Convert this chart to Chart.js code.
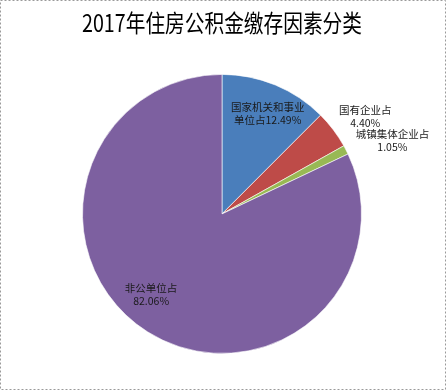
<!DOCTYPE html>
<html>
<head>
<meta charset="utf-8">
<script src="https://cdn.jsdelivr.net/npm/chart.js@4"></script>
<style>
  html, body { margin: 0; padding: 0; background: #fff; }
  #wrap { width: 446px; height: 390px; }
</style>
</head>
<body>
<div id="wrap"><canvas id="pie" width="446" height="390"></canvas></div>
<script>
// --- data ---
const titleText = '2017年住房公积金缴存因素分类';
const categories = ['国家机关和事业单位占', '国有企业占', '城镇集体企业占', '非公单位占'];
const shares = [12.49, 4.40, 1.05, 82.06];
// label lines as printed on the chart
const labelLines = [
    ['国家机关和事业', '单位占12.49%'],
    ['国有企业占', '4.40%'],
    ['城镇集体企业占', '1.05%'],
    ['非公单位占', '82.06%']
];

// --- styles ---
const sliceColors = ['#4a7ebb', '#be4b48', '#98b954', '#7d60a0'];
// where each label sits: fraction of radius and angle nudge (deg) from slice middle
const labelRadius = [0.79, 1.24, 1.33, 0.77];
const labelNudge = [2, 3, 4, 9];

const pageFrame = {
    id: 'pageFrame',
    beforeDraw(chart) {
        const c = chart.ctx;
        c.save();
        c.fillStyle = '#fff';
        c.fillRect(0, 0, chart.width, chart.height);
        c.strokeStyle = '#9a9a9a';
        c.lineWidth = 1;
        c.setLineDash([2, 2]);
        c.strokeRect(0.5, 0.5, chart.width - 1, chart.height - 1);
        c.restore();
    }
};

const sliceLabels = {
    id: 'sliceLabels',
    afterDatasetsDraw(chart) {
        const c = chart.ctx;
        const arcs = chart.getDatasetMeta(0).data;
        c.save();
        c.font = '10.5px "Noto Sans CJK SC", sans-serif';
        c.fillStyle = '#1a1a1a';
        c.textAlign = 'center';
        c.textBaseline = 'middle';
        arcs.forEach((arc, i) => {
            const p = arc.getProps(['x', 'y', 'startAngle', 'endAngle', 'outerRadius'], true);
            const mid = (p.startAngle + p.endAngle) / 2 + labelNudge[i] * Math.PI / 180;
            const r = p.outerRadius * labelRadius[i];
            const cx = p.x + Math.cos(mid) * r;
            const cy = p.y + Math.sin(mid) * r;
            const lines = labelLines[i];
            lines.forEach((t, k) => {
                c.fillText(t, cx, cy + (k - (lines.length - 1) / 2) * 13);
            });
        });
        c.restore();
    }
};

new Chart(document.getElementById('pie').getContext('2d'), {
    type: 'pie',
    data: {
        labels: categories,
        datasets: [{
            data: shares,
            backgroundColor: sliceColors,
            borderColor: 'rgba(255,255,255,0.6)',
            borderWidth: 1
        }]
    },
    options: {
        responsive: false,
        animation: false,
        layout: { padding: { top: 0, bottom: 36, left: 82, right: 84 } },
        plugins: {
            legend: { display: false },
            tooltip: { enabled: false },
            title: {
                display: true,
                text: titleText,
                color: '#000',
                font: { family: '"Noto Sans CJK SC", sans-serif', size: 24, weight: 'normal' },
                padding: { top: 8, bottom: 37 }
            }
        }
    },
    plugins: [pageFrame, sliceLabels]
});
</script>
</body>
</html>
